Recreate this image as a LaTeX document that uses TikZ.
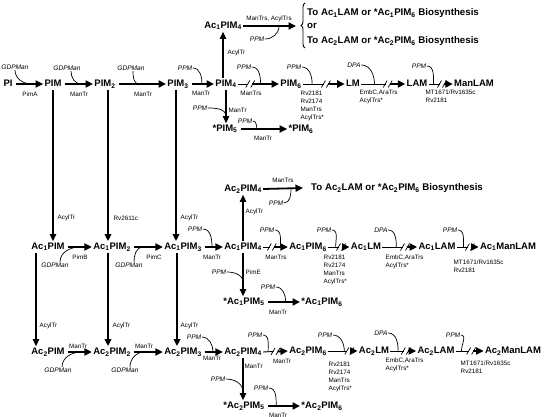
\documentclass[tikz,border=0pt]{standalone}
\usepackage{fontspec}
\setmainfont{Liberation Sans}
\usetikzlibrary{arrows.meta,calc,decorations.pathreplacing}

\newcommand{\sbs}[1]{\textsubscript{#1}}
% arrow from #1 to #2 broken by two slashes at fraction #3
\newcommand{\brkarrow}[3]{%
  \coordinate (bk) at ($(#1.east)!#3!(#2.west)$);
  \draw[line width=0.9pt] (#1.east) -- ([xshift=-2pt]bk);
  \draw[rxn] ([xshift=2pt]bk) -- (#2.west);
  \draw[line width=0.7pt] ([xshift=-4.5pt,yshift=-3.5pt]bk) -- ([xshift=-0.5pt,yshift=3.5pt]bk)
    ([xshift=0.5pt,yshift=-3.5pt]bk) -- ([xshift=4.5pt,yshift=3.5pt]bk);}

\begin{document}
\begin{tikzpicture}[x=1pt,y=-1pt,
    met/.style={font=\fontsize{9.5}{11}\selectfont\bfseries,inner sep=1.2pt,text height=7pt,text depth=2pt},
    enz/.style={font=\fontsize{6.3}{8.2}\selectfont,inner sep=0.5pt,align=left},
    cof/.style={font=\fontsize{6.6}{8}\selectfont\itshape,inner sep=0.5pt},
    fin/.style={font=\fontsize{9.7}{11}\selectfont\bfseries,inner sep=0pt,anchor=west},
    rxn/.style={line width=1.8pt,-{Triangle[length=7.5pt,width=7pt]}},
    vrxn/.style={line width=1.3pt,-{Triangle[length=7pt,width=6.5pt]}},
    feed/.style={line width=0.7pt}]
  \useasboundingbox (0,0) rectangle (544,417);

  % metabolites
  \foreach \n/\x/\y/\t in {
      pi/8/84/PI, pim1/53/84/PIM, pim2/105/84/PIM\sbs{2}, pim3/178/84/PIM\sbs{3},
      pim4/226/84/PIM\sbs{4}, pim6/291/84/PIM\sbs{6}, lm/353/84/LM, lam/417/84/LAM,
      manlam/474/84/ManLAM, acpim4/223/26/Ac\sbs{1}PIM\sbs{4},
      spim5/225/129/*PIM\sbs{5}, spim6/301/129/*PIM\sbs{6},
      a1pim1/48/247/Ac\sbs{1}PIM, a1pim2/112/247/Ac\sbs{1}PIM\sbs{2},
      a1pim3/183/247/Ac\sbs{1}PIM\sbs{3}, a1pim4/243/247/Ac\sbs{1}PIM\sbs{4},
      a1pim6/308/247/Ac\sbs{1}PIM\sbs{6}, a1lm/366/247/Ac\sbs{1}LM,
      a1lam/437/247/Ac\sbs{1}LAM, a1manlam/508/247/Ac\sbs{1}ManLAM,
      a2pim4t/243/189/Ac\sbs{2}PIM\sbs{4},
      sa1pim5/244/302/*Ac\sbs{1}PIM\sbs{5}, sa1pim6/322/302/*Ac\sbs{1}PIM\sbs{6},
      a2pim1/48/352/Ac\sbs{2}PIM, a2pim2/112/352/Ac\sbs{2}PIM\sbs{2},
      a2pim3/183/352/Ac\sbs{2}PIM\sbs{3}, a2pim4/243/352/Ac\sbs{2}PIM\sbs{4},
      a2pim6/308/351/Ac\sbs{2}PIM\sbs{6}, a2lm/374/351/Ac\sbs{2}LM,
      a2lam/436/351/Ac\sbs{2}LAM, a2manlam/513/351/Ac\sbs{2}ManLAM,
      sa2pim5/244/406/*Ac\sbs{2}PIM\sbs{5}, sa2pim6/322/406/*Ac\sbs{2}PIM\sbs{6}}
    \node[met] (\n) at (\x,\y) {\t};

  % further biosynthesis
  \node[fin] (t1) at (307,13) {To Ac\sbs{1}LAM or *Ac\sbs{1}PIM\sbs{6} Biosynthesis};
  \node[fin] (t2) at (307,26) {or};
  \node[fin] (t3) at (307,41) {To Ac\sbs{2}LAM or *Ac\sbs{2}PIM\sbs{6} Biosynthesis};
  \node[fin] (t4) at (311,188) {To Ac\sbs{2}LAM or *Ac\sbs{2}PIM\sbs{6} Biosynthesis};
  \draw[line width=0.9pt,decorate,decoration={brace,amplitude=4pt}] (305,48) -- (305,3);
  \coordinate (toA) at (296,26);
  \coordinate (toB) at (303,188);

  % reactions
  \foreach \a/\b in {pi/pim1, pim1/pim2, pim2/pim3, pim3/pim4, spim5/spim6,
      a1pim1/a1pim2, a1pim2/a1pim3, a1pim3/a1pim4, sa1pim5/sa1pim6,
      a2pim1/a2pim2, a2pim2/a2pim3, a2pim3/a2pim4, sa2pim5/sa2pim6}
    \draw[rxn,shorten <=2pt] (\a.east) -- (\b.west);
  \foreach \a/\b/\f in {pim4/pim6/0.3, pim6/lm/0.55, lm/lam/0.6, lam/manlam/0.55,
      a1pim4/a1pim6/0.35, a1pim6/a1lm/0.6, a1lm/a1lam/0.65, a1lam/a1manlam/0.6,
      a2pim4/a2pim6/0.5, a2pim6/a2lm/0.72, a2lm/a2lam/0.6, a2lam/a2manlam/0.55}
    \brkarrow{\a}{\b}{\f};
  \draw[rxn] (acpim4.east) -- (toA);
  \draw[rxn] (a2pim4t.east) -- (toB);

  \draw[vrxn] ([xshift=-3pt]pim4.north) -- ([xshift=-3pt]pim4.north |- acpim4.south);
  \draw[vrxn] (pim4.south) -- (pim4.south |- spim5.north);
  \draw[vrxn] (a1pim4.north) -- (a1pim4.north |- a2pim4t.south);
  \draw[vrxn] (a1pim4.south) -- (a1pim4.south |- sa1pim5.north);
  \draw[vrxn] (a2pim4.south) -- (a2pim4.south |- sa2pim5.north);
  \foreach \a/\b/\s/\w in {pim1/a1pim1/0/1.3, pim2/a1pim2/3/2.2, pim3/a1pim3/-2/1.8,
      a1pim1/a2pim1/-12/1.3, a1pim2/a2pim2/-4/2.2, a1pim3/a2pim3/-6/1.8}
    \draw[vrxn,line width=\w pt] ([xshift=\s pt]\a.south) -- ([xshift=\s pt]\a.south |- \b.north);

  % donors
  \foreach \n/\x/\y/\t in {
      c1/15/67/GDPMan, c2/67/68/GDPMan, c3/131/68/GDPMan, c4/185/68/PPM,
      c5/257/39/PPM, c6/244/67/PPM, c7/294/67/PPM, c8/354/65/DPA, c9/419/66/PPM,
      c10/200/108/PPM, c11/245/121/PPM,
      d1/55/265/GDPMan, d2/129/265/GDPMan, d3/195/229/PPM, d4/276/203/PPM,
      d5/267/230/PPM, d6/324/230/PPM, d7/381/230/DPA, d8/450/230/PPM,
      d9/219/272/PPM, d10/268/287/PPM,
      f1/58/370/GDPMan, f2/125/370/GDPMan, f3/194/337/PPM, f4/255/335/PPM,
      f5/325/335/PPM, f6/381/333/DPA, f7/453/335/PPM, f8/218/379/PPM, f9/261/388/PPM}
    \node[cof] (\n) at (\x,\y) {\t};

  \foreach \c/\s/\a/\b/\f in {c1/0/pi/pim1/0.6, c2/4/pim1/pim2/0.6, c3/2/pim2/pim3/0.45}
    \draw[feed] ([xshift=\s pt]\c.south) to[out=-90,in=180] ($(\a.east)!\f!(\b.west)$);
  \foreach \c/\s/\a/\b/\f in {d1/5/a1pim1/a1pim2/0.55, d2/5/a1pim2/a1pim3/0.35,
      f1/4/a2pim1/a2pim2/0.6, f2/5/a2pim2/a2pim3/0.4}
    \draw[feed] ([xshift=\s pt]\c.north) to[out=90,in=180] ($(\a.east)!\f!(\b.west)$);
  \foreach \c/\a/\b/\f in {c4/pim3/pim4/0.5, c6/pim4/pim6/0.55, c7/pim6/lm/0.22,
      c8/lm/lam/0.3, c9/lam/manlam/0.2, c11/spim5/spim6/0.37,
      d3/a1pim3/a1pim4/0.45, d5/a1pim4/a1pim6/0.7, d6/a1pim6/a1lm/0.35,
      d7/a1lm/a1lam/0.4, d8/a1lam/a1manlam/0.3, d10/sa1pim5/sa1pim6/0.58,
      f3/a2pim3/a2pim4/0.5, f4/a2pim4/a2pim6/0.2, f5/a2pim6/a2lm/0.55,
      f6/a2lm/a2lam/0.3, f7/a2lam/a2manlam/0.2, f9/sa2pim5/sa2pim6/0.3}
    \draw[feed] (\c.east) to[out=0,in=90] ($(\a.east)!\f!(\b.west)$);
  \foreach \c/\a/\b/\f in {c10/pim4/spim5/0.8, d9/a1pim4/sa1pim5/0.68, f8/a2pim4/sa2pim5/0.8}
    \draw[feed] (\c.east) to[out=0,in=90] ($(\a.south)!\f!(\a.south |- \b.north)$);
  \draw[feed] (c5.east) to[out=0,in=-90] ($(acpim4.east)!0.68!(toA)$);
  \draw[feed] (d4.east) to[out=0,in=-90] ($(a2pim4t.east)!0.7!(toB)$);

  % enzymes
  \node[enz] (e1) at (30,94) {PimA};
  \node[enz] (e2) at (79,94) {ManTr};
  \node[enz] (e3) at (143,94) {ManTr};
  \node[enz] (e4) at (201,93) {ManTr};
  \node[enz] (e5) at (251,93) {ManTrs};
  \node[enz,anchor=west] (e6) at (227,53) {AcylTr};
  \node[enz] (e7) at (269,19) {ManTrs, AcylTrs};
  \node[enz,anchor=west] (e8) at (228,110) {ManTr};
  \node[enz,anchor=north west] (e9) at (300,90) {Rv2181\\Rv2174\\ManTrs\\AcylTrs*};
  \node[enz,anchor=north west] (e10) at (359,89) {EmbC,AraTrs\\AcylTrs*};
  \node[enz,anchor=north west] (e11) at (425,89) {MT1671/Rv1635c\\Rv2181};
  \node[enz] (e12) at (263,138) {ManTr};

  \node[enz,anchor=west] (g1) at (57,218) {AcylTr};
  \node[enz,anchor=west] (g2) at (113,218) {Rv2611c};
  \node[enz,anchor=west] (g3) at (180,218) {AcylTr};
  \node[enz] (g4) at (80,257) {PimB};
  \node[enz] (g5) at (154,257) {PimC};
  \node[enz] (g6) at (212,257) {ManTr};
  \node[enz,anchor=west] (g7) at (245,212) {AcylTr};
  \node[enz] (g8) at (283,180) {ManTrs};
  \node[enz] (g9) at (276,257) {ManTrs};
  \node[enz,anchor=north west] (g10) at (323,254) {Rv2181\\Rv2174\\ManTrs\\AcylTrs*};
  \node[enz,anchor=north west] (g11) at (385,254) {EmbC,AraTrs\\AcylTrs*};
  \node[enz,anchor=north west] (g12) at (453,259) {MT1671/Rv1635c\\Rv2181};
  \node[enz,anchor=west] (g13) at (245,272) {PimE};
  \node[enz] (g14) at (278,312) {ManTr};

  \node[enz,anchor=west] (h1) at (39,326) {AcylTr};
  \node[enz,anchor=west] (h2) at (112,326) {AcylTr};
  \node[enz,anchor=west] (h3) at (180,326) {AcylTr};
  \node[enz] (h4) at (78,346) {ManTr};
  \node[enz] (h5) at (144,346) {ManTr};
  \node[enz] (h6) at (212,358) {ManTr};
  \node[enz] (h7) at (282,361) {ManTr};
  \node[enz,anchor=north west] (h8) at (328,361) {Rv2181\\Rv2174\\ManTrs\\AcylTrs*};
  \node[enz,anchor=north west] (h9) at (385,357) {EmbC,AraTrs\\AcylTrs*};
  \node[enz,anchor=north west] (h10) at (460,360) {MT1671/Rv1635c\\Rv2181};
  \node[enz,anchor=west] (h11) at (244,366) {ManTr};
  \node[enz] (h12) at (278,415) {ManTr};
\end{tikzpicture}
\end{document}
